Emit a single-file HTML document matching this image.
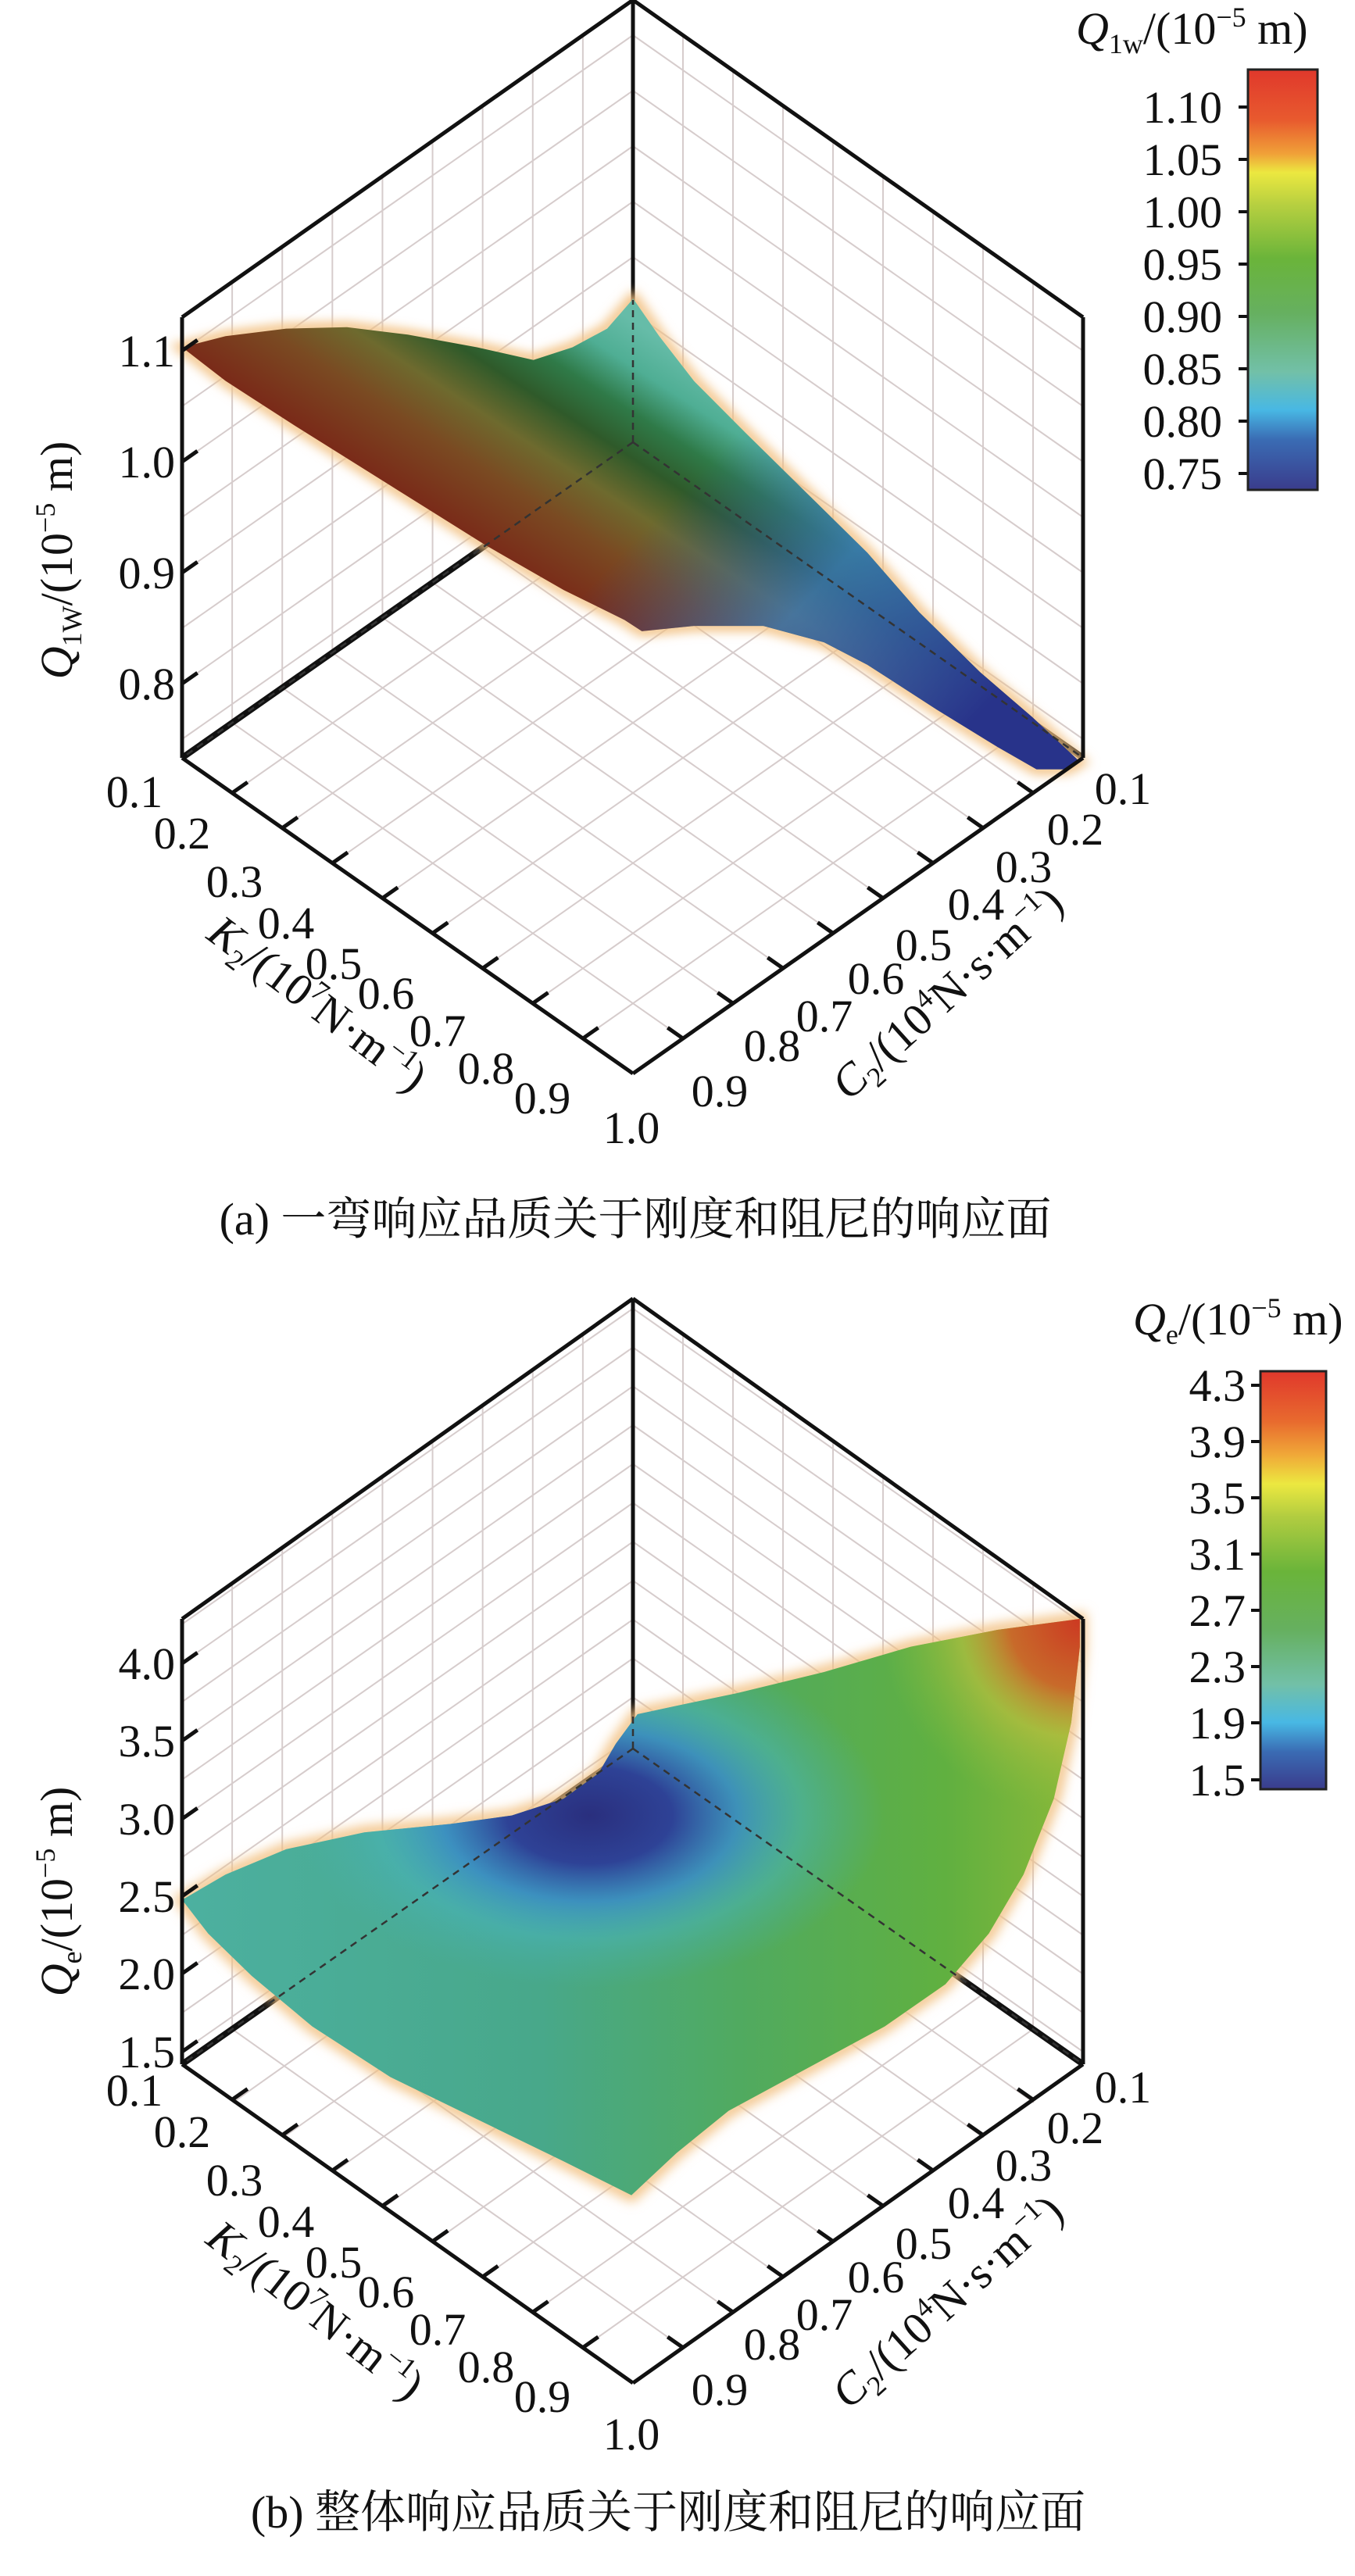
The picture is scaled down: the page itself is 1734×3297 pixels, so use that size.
<!DOCTYPE html>
<html><head><meta charset="utf-8"><style>
html,body{margin:0;padding:0;background:#fff}
svg{display:block}
text{font-family:"Liberation Serif","Noto Serif CJK SC",serif;fill:#111}
.t{font-size:58px}
.cap{font-family:"Liberation Serif","Noto Serif CJK SC",serif;font-size:58px}
</style></head><body>
<svg id="s" width="1734" height="3297" viewBox="0 0 1734 3297" xmlns="http://www.w3.org/2000/svg">
<defs>
<filter id="blur" x="-20%" y="-20%" width="140%" height="140%"><feGaussianBlur stdDeviation="7"/></filter>
<linearGradient id="ga" gradientUnits="userSpaceOnUse" x1="560" y1="740" x2="770" y2="460">
<stop offset="0" stop-color="#7a2818"/><stop offset="0.25" stop-color="#7a4a22"/><stop offset="0.42" stop-color="#6e6a2e"/>
<stop offset="0.58" stop-color="#2f5a2a"/><stop offset="0.72" stop-color="#2f7a48"/><stop offset="0.86" stop-color="#4fae94"/><stop offset="1" stop-color="#66bca8"/></linearGradient>
<linearGradient id="gab" gradientUnits="userSpaceOnUse" x1="800" y1="640" x2="1150" y2="930">
<stop offset="0" stop-color="#2a4a9e" stop-opacity="0"/><stop offset="0.45" stop-color="#3a78c0" stop-opacity="0.75"/><stop offset="1" stop-color="#28338a" stop-opacity="1"/></linearGradient>
<linearGradient id="gb" gradientUnits="userSpaceOnUse" x1="210" y1="0" x2="1245" y2="0">
<stop offset="0" stop-color="#4cb0a0"/><stop offset="0.4" stop-color="#48a88a"/><stop offset="0.62" stop-color="#50aa60"/><stop offset="0.85" stop-color="#60b040"/><stop offset="1" stop-color="#8ab838"/></linearGradient>
<radialGradient id="gbr" gradientUnits="userSpaceOnUse" cx="1245" cy="440" r="230">
<stop offset="0" stop-color="#cc3a22"/><stop offset="0.35" stop-color="#c86a2a"/><stop offset="0.6" stop-color="#c0c040" stop-opacity="0.6"/><stop offset="1" stop-color="#90c040" stop-opacity="0"/></radialGradient>
<radialGradient id="gbb" gradientUnits="userSpaceOnUse" cx="680" cy="670" r="340" gradientTransform="translate(680 670) scale(1 0.6) translate(-680 -670)">
<stop offset="0" stop-color="#2a2f7e"/><stop offset="0.28" stop-color="#2e4296"/><stop offset="0.5" stop-color="#3a8cc8" stop-opacity="0.85"/><stop offset="0.72" stop-color="#48b4c0" stop-opacity="0.5"/><stop offset="1" stop-color="#48b0b0" stop-opacity="0"/></radialGradient>
<linearGradient id="cba" x1="0" y1="0" x2="0" y2="1">
<stop offset="0" stop-color="#e0382c"/><stop offset="0.12" stop-color="#e85a2e"/><stop offset="0.2" stop-color="#f0a038"/><stop offset="0.245" stop-color="#ece840"/>
<stop offset="0.32" stop-color="#b8d040"/><stop offset="0.45" stop-color="#6ab43a"/><stop offset="0.58" stop-color="#66b060"/><stop offset="0.72" stop-color="#72c0a8"/>
<stop offset="0.81" stop-color="#48b8e4"/><stop offset="0.88" stop-color="#3a6cb4"/><stop offset="1" stop-color="#3a3c8c"/></linearGradient>
<linearGradient id="cbb" x1="0" y1="0" x2="0" y2="1">
<stop offset="0" stop-color="#e0382c"/><stop offset="0.12" stop-color="#e86a2e"/><stop offset="0.2" stop-color="#f0a838"/><stop offset="0.27" stop-color="#ece840"/>
<stop offset="0.35" stop-color="#b0cc40"/><stop offset="0.48" stop-color="#6ab43a"/><stop offset="0.62" stop-color="#66b060"/><stop offset="0.75" stop-color="#72c0a8"/>
<stop offset="0.84" stop-color="#48b8e4"/><stop offset="0.91" stop-color="#3a6cb4"/><stop offset="1" stop-color="#3a3c8c"/></linearGradient>
</defs>
<g id="grid"></g>

<!-- Plot A surface -->
<g transform="matrix(1.11,0,0,0.956,0,0)">
<path d="M210,465 L260,450 330,440 400,438 470,448 550,465 615,482 660,465 700,440 730,400 760,450 800,510 860,580 930,660 1000,740 1060,820 1130,900 1190,960 1245,1020 1230,1030 1195,1030 1150,1000 1080,950 1000,890 950,860 880,838 800,838 740,845 720,830 650,790 560,730 450,650 340,570 260,510 Z" fill="none" stroke="#f2c080" stroke-width="14" filter="url(#blur)"/>
<path d="M210,465 L260,450 330,440 400,438 470,448 550,465 615,482 660,465 700,440 730,400 760,450 800,510 860,580 930,660 1000,740 1060,820 1130,900 1190,960 1245,1020 1230,1030 1195,1030 1150,1000 1080,950 1000,890 950,860 880,838 800,838 740,845 720,830 650,790 560,730 450,650 340,570 260,510 Z" fill="url(#ga)"/>
<path d="M210,465 L260,450 330,440 400,438 470,448 550,465 615,482 660,465 700,440 730,400 760,450 800,510 860,580 930,660 1000,740 1060,820 1130,900 1190,960 1245,1020 1230,1030 1195,1030 1150,1000 1080,950 1000,890 950,860 880,838 800,838 740,845 720,830 650,790 560,730 450,650 340,570 260,510 Z" fill="url(#gab)"/>
</g>
<!-- Plot B surface -->
<g transform="matrix(1.11,0,0,1.08,0,1600)">
<path d="M210,770 L260,740 330,710 420,690 520,680 590,670 650,650 690,620 710,585 735,550 780,540 850,525 950,500 1050,470 1150,450 1245,437 1245,470 1235,560 1215,650 1180,740 1140,810 1090,870 1020,920 930,970 840,1020 780,1070 728,1120 650,1080 550,1030 450,980 360,920 290,860 240,810 Z" fill="none" stroke="#f2c080" stroke-width="14" filter="url(#blur)"/>
<path d="M210,770 L260,740 330,710 420,690 520,680 590,670 650,650 690,620 710,585 735,550 780,540 850,525 950,500 1050,470 1150,450 1245,437 1245,470 1235,560 1215,650 1180,740 1140,810 1090,870 1020,920 930,970 840,1020 780,1070 728,1120 650,1080 550,1030 450,980 360,920 290,860 240,810 Z" fill="url(#gb)"/>
<clipPath id="cpb"><path d="M210,770 L260,740 330,710 420,690 520,680 590,670 650,650 690,620 710,585 735,550 780,540 850,525 950,500 1050,470 1150,450 1245,437 1245,470 1235,560 1215,650 1180,740 1140,810 1090,870 1020,920 930,970 840,1020 780,1070 728,1120 650,1080 550,1030 450,980 360,920 290,860 240,810 Z"/></clipPath>
<g clip-path="url(#cpb)">
<rect x="200" y="400" width="1100" height="800" fill="url(#gbb)"/>
<rect x="900" y="400" width="400" height="400" fill="url(#gbr)"/>
</g>
</g>
<g id="over"></g>

<!-- Plot A labels -->
<g class="t" text-anchor="end">
<text x="224" y="469">1.1</text><text x="224" y="611">1.0</text><text x="224" y="753">0.9</text><text x="224" y="895">0.8</text>
</g>
<g class="t" text-anchor="middle">
<text x="172" y="1033">0.1</text><text x="233" y="1086">0.2</text><text x="300" y="1148">0.3</text><text x="366" y="1201">0.4</text><text x="427" y="1253">0.5</text><text x="494" y="1291">0.6</text><text x="560" y="1339">0.7</text><text x="622" y="1387">0.8</text><text x="694" y="1425">0.9</text><text x="808" y="1463">1.0</text>
<text x="1437" y="1029">0.1</text><text x="1376" y="1081">0.2</text><text x="1310" y="1129">0.3</text><text x="1249" y="1177">0.4</text><text x="1182" y="1229">0.5</text><text x="1121" y="1272">0.6</text><text x="1055" y="1320">0.7</text><text x="988" y="1358">0.8</text><text x="921" y="1416">0.9</text>
</g>
<text class="t" text-anchor="middle" transform="translate(92,717) rotate(-90)"><tspan font-style="italic">Q</tspan><tspan font-size="36" dy="12">1W</tspan><tspan dy="-12">/(10</tspan><tspan font-size="36" dy="-22">−5</tspan><tspan dy="22"> m)</tspan></text>
<text class="t" text-anchor="middle" transform="translate(395,1300) rotate(37)"><tspan font-style="italic">K</tspan><tspan font-size="36" dy="12">2</tspan><tspan dy="-12">/(10</tspan><tspan font-size="36" dy="-22">7</tspan><tspan dy="22">N·m</tspan><tspan font-size="36" dy="-22">−1</tspan><tspan dy="22">)</tspan></text>
<text class="t" text-anchor="middle" transform="translate(1225,1285) rotate(-42)"><tspan font-style="italic">C</tspan><tspan font-size="36" dy="12">2</tspan><tspan dy="-12">/(10</tspan><tspan font-size="36" dy="-22">4</tspan><tspan dy="22">N·s·m</tspan><tspan font-size="36" dy="-22">−1</tspan><tspan dy="22">)</tspan></text>

<!-- Colorbar A -->
<rect x="1597" y="89" width="89" height="538" fill="url(#cba)" stroke="#222" stroke-width="3"/>
<g class="t" text-anchor="end">
<text x="1564" y="157">1.10</text><text x="1564" y="224">1.05</text><text x="1564" y="291">1.00</text><text x="1564" y="358">0.95</text><text x="1564" y="425">0.90</text><text x="1564" y="492">0.85</text><text x="1564" y="559">0.80</text><text x="1564" y="626">0.75</text>
</g>
<text class="t" x="1377" y="56"><tspan font-style="italic">Q</tspan><tspan font-size="36" dy="12">1w</tspan><tspan dy="-12">/(10</tspan><tspan font-size="36" dy="-22">−5</tspan><tspan dy="22"> m)</tspan></text>

<text class="cap" x="813" y="1580" text-anchor="middle">(a) 一弯响应品质关于刚度和阻尼的响应面</text>

<!-- Plot B labels -->
<g class="t" text-anchor="end">
<text x="224" y="2149">4.0</text><text x="224" y="2248">3.5</text><text x="224" y="2348">3.0</text><text x="224" y="2447">2.5</text><text x="224" y="2546">2.0</text><text x="224" y="2646">1.5</text>
</g>
<g class="t" text-anchor="middle">
<text x="172" y="2695">0.1</text><text x="233" y="2748">0.2</text><text x="300" y="2810">0.3</text><text x="366" y="2863">0.4</text><text x="427" y="2915">0.5</text><text x="494" y="2953">0.6</text><text x="560" y="3001">0.7</text><text x="622" y="3049">0.8</text><text x="694" y="3087">0.9</text><text x="808" y="3135">1.0</text>
<text x="1437" y="2691">0.1</text><text x="1376" y="2743">0.2</text><text x="1310" y="2791">0.3</text><text x="1249" y="2839">0.4</text><text x="1182" y="2891">0.5</text><text x="1121" y="2934">0.6</text><text x="1055" y="2982">0.7</text><text x="988" y="3020">0.8</text><text x="921" y="3078">0.9</text>
</g>
<text class="t" text-anchor="middle" transform="translate(92,2421) rotate(-90)"><tspan font-style="italic">Q</tspan><tspan font-size="36" dy="12">e</tspan><tspan dy="-12">/(10</tspan><tspan font-size="36" dy="-22">−5</tspan><tspan dy="22"> m)</tspan></text>
<text class="t" text-anchor="middle" transform="translate(392,2972) rotate(38)"><tspan font-style="italic">K</tspan><tspan font-size="36" dy="12">2</tspan><tspan dy="-12">/(10</tspan><tspan font-size="36" dy="-22">7</tspan><tspan dy="22">N·m</tspan><tspan font-size="36" dy="-22">−1</tspan><tspan dy="22">)</tspan></text>
<text class="t" text-anchor="middle" transform="translate(1225,2960) rotate(-42)"><tspan font-style="italic">C</tspan><tspan font-size="36" dy="12">2</tspan><tspan dy="-12">/(10</tspan><tspan font-size="36" dy="-22">4</tspan><tspan dy="22">N·s·m</tspan><tspan font-size="36" dy="-22">−1</tspan><tspan dy="22">)</tspan></text>

<!-- Colorbar B -->
<rect x="1613" y="1755" width="84" height="535" fill="url(#cbb)" stroke="#222" stroke-width="3"/>
<g class="t" text-anchor="end">
<text x="1594" y="1793">4.3</text><text x="1594" y="1865">3.9</text><text x="1594" y="1937">3.5</text><text x="1594" y="2009">3.1</text><text x="1594" y="2081">2.7</text><text x="1594" y="2153">2.3</text><text x="1594" y="2225">1.9</text><text x="1594" y="2298">1.5</text>
</g>
<text class="t" x="1450" y="1708"><tspan font-style="italic">Q</tspan><tspan font-size="36" dy="12">e</tspan><tspan dy="-12">/(10</tspan><tspan font-size="36" dy="-22">−5</tspan><tspan dy="22"> m)</tspan></text>

<text class="cap" x="855" y="3235" text-anchor="middle">(b) 整体响应品质关于刚度和阻尼的响应面</text>
</svg>
<script>
(function(){
var NS="http://www.w3.org/2000/svg";
var grid=document.getElementById('grid'),over=document.getElementById('over');
function L(g,x1,y1,x2,y2,st,w,dash){var l=document.createElementNS(NS,'line');l.setAttribute('x1',x1);l.setAttribute('y1',y1);l.setAttribute('x2',x2);l.setAttribute('y2',y2);l.setAttribute('stroke',st);l.setAttribute('stroke-width',w);if(dash)l.setAttribute('stroke-dasharray',dash);g.appendChild(l);}
function plot(P){
 var xl=233,xr=1386,xc=810,top=P.top,tl=P.tl,c=P.c,lb=P.lb,b=P.b;
 var gc="#d6cccc";
 for(var i=1;i<9;i++){var t=i/9,x=xl+(xc-xl)*t;
  L(grid,x,tl-(tl-top)*t,x,lb-(lb-c)*t,gc,2);
  var x2=xr-(xr-xc)*t;L(grid,x2,tl-(tl-top)*t,x2,lb-(lb-c)*t,gc,2);}
 P.zl.forEach(function(y){ if(y>tl+2&&y<lb-2){L(grid,xl,y,xc,y-(lb-c),gc,2);L(grid,xr,y,xc,y-(lb-c),gc,2);} });
 var hv=(b-lb);
 for(var i=1;i<9;i++){var t=i/9;
  var px=xl+(xc-xl)*t,py=lb-(lb-c)*t; L(grid,px,py,px+(xc-xl),py+hv,gc,2);
  var qx=xr-(xr-xc)*t,qy=lb-(lb-c)*t; L(grid,qx,qy,qx-(xr-xc),qy+hv,gc,2);}
 L(grid,xl,lb,xc,c,"#111",8);L(grid,xr,lb,xc,c,"#111",8);L(grid,xc,top,xc,c,"#111",5);
 var o=[[xl,tl,xc,top],[xc,top,xr,tl],[xl,tl,xl,lb],[xr,tl,xr,lb],[xl,lb,xc,b],[xc,b,xr,lb]];
 o.forEach(function(a){L(over,a[0],a[1],a[2],a[3],"#111",5);});
 L(over,xc,c,xl,lb,"#333",2.5,"9 7");L(over,xc,c,xr,lb,"#333",2.5,"9 7");L(over,xc,c,xc,P.dv,"#333",2.5,"9 7");
 var ux=(xc-xl),uy=(lb-c),n=Math.sqrt(ux*ux+uy*uy);ux/=n;uy/=n;
 for(var i=1;i<9;i++){var t=i/9;
  var ex=xl+(xc-xl)*t,ey=lb+hv*t;L(over,ex,ey,ex+ux*24,ey-uy*24,"#111",5);
  var fx=xr-(xr-xc)*t,fy=lb+hv*t;L(over,fx,fy,fx-ux*24,fy-uy*24,"#111",5);}
 P.zt.forEach(function(y){L(over,xl,y,xl+ux*24,y-uy*24,"#111",5);});
}
var za=[],zta=[875,733,591,449];for(var v=0.75;v<1.16;v+=0.05){za.push(875-(v-0.8)*1420);}
plot({top:0,tl:406,c:566,lb:970,b:1374,zl:za,zt:zta,dv:384});
var zb=[],ztb=[2626,2526,2427,2328,2228,2129];for(var v=1.5;v<4.4;v+=0.25){zb.push(2626-(v-1.5)*199);}
plot({top:1662,tl:2072,c:2238,lb:2642,b:3050,zl:zb,zt:ztb,dv:2192});
[137,204,271,338,405,472,539,606].forEach(function(y){L(over,1585,y,1597,y,"#111",4);});
[1773,1845,1917,1989,2061,2133,2205,2278].forEach(function(y){L(over,1601,y,1613,y,"#111",4);});
})();
</script>
</body></html>
